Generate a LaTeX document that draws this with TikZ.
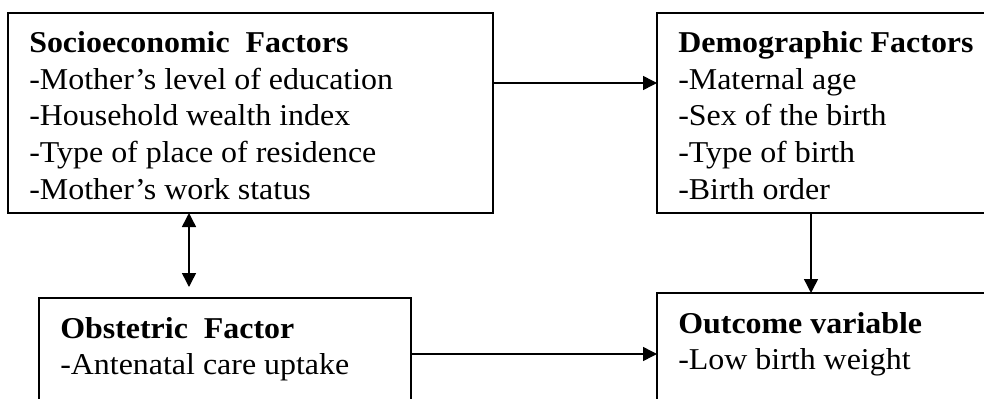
\documentclass[tikz,border=0pt]{standalone}
\usepackage{fontspec}
\setmainfont{Liberation Serif}[FakeStretch=1.055]
\usetikzlibrary{arrows.meta}
\begin{document}
\begin{tikzpicture}[x=0.75pt,y=-0.75pt,
  box/.style={draw, line width=1.5pt, rectangle, inner sep=0pt, outer sep=0pt, anchor=north west},
  lbl/.style={anchor=base west, inner sep=0pt, font=\fontsize{22.7pt}{27.4pt}\selectfont},
  ttl/.style={anchor=base west, inner sep=0pt, font=\fontsize{22.7pt}{27.4pt}\selectfont\bfseries},
  arr/.style={line width=1.1pt, -{Triangle[length=10.5pt,width=10.5pt]}},
  darr/.style={line width=1.1pt, {Triangle[length=10.5pt,width=10.5pt]}-{Triangle[length=10.5pt,width=10.5pt]}}]
\useasboundingbox (0,0) rectangle (984,399);
\clip (0,0) rectangle (984,399);
% boxes
\node[box, minimum width=363.75pt, minimum height=150pt] (se) at (8,13) {};
\node[box, minimum width=257.25pt, minimum height=150pt] (dm) at (657,13) {};
\node[box, minimum width=279pt, minimum height=92pt] (ob) at (39,297.5) {};
\node[box, minimum width=257.25pt, minimum height=96pt] (oc) at (657,293) {};
% texts
\node[ttl] (se0) at (29,53) {Socioeconomic\ \ Factors};
\node[lbl] (se1) at (29,89.5) {-Mother’s level of education};
\node[lbl] (se2) at (29,126) {-Household wealth index};
\node[lbl] (se3) at (29,162.5) {-Type of place of residence};
\node[lbl] (se4) at (29,199) {-Mother’s work status};
\node[ttl] (dm0) at (678,53) {Demographic Factors};
\node[lbl] (dm1) at (678,89.5) {-Maternal age};
\node[lbl] (dm2) at (678,126) {-Sex of the birth};
\node[lbl] (dm3) at (678,162.5) {-Type of birth};
\node[lbl] (dm4) at (678,199) {-Birth order};
\node[ttl] (ob0) at (60,338) {Obstetric\ \ Factor};
\node[lbl] (ob1) at (60,374) {-Antenatal care uptake};
\node[ttl] (oc0) at (678,333) {Outcome variable};
\node[lbl] (oc1) at (678,369.5) {-Low birth weight};
% connectors
\coordinate (ya) at (0,83);
\coordinate (yb) at (0,354);
\coordinate (xd) at (811,0);
\coordinate (dend) at (189,287);
\draw[arr] (se.east |- ya) -- (dm.west |- ya);
\draw[darr] (se.south -| dend) -- (dend);
\draw[arr] (dm.south -| xd) -- (oc.north -| xd);
\draw[arr] (ob.east |- yb) -- (oc.west |- yb);
\end{tikzpicture}
\end{document}
